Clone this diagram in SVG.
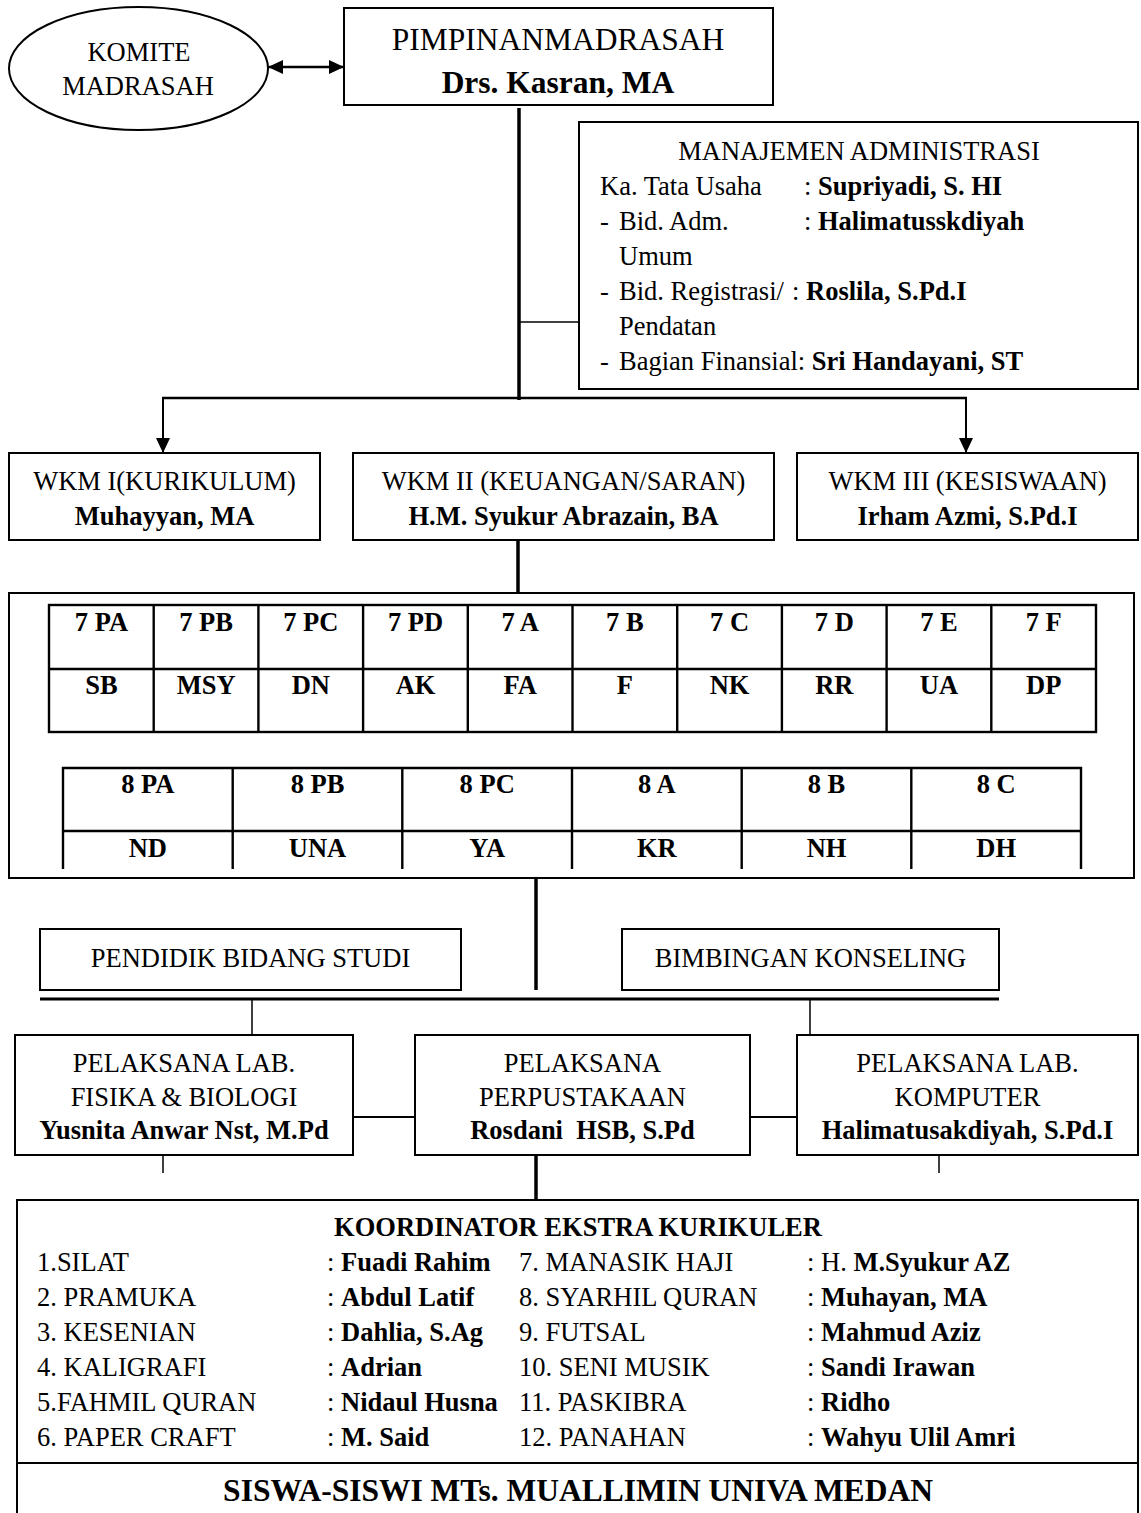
<svg xmlns="http://www.w3.org/2000/svg" width="1141" height="1513" viewBox="0 0 1141 1513">
<style>
text{font-family:"Liberation Serif","Times New Roman",serif;font-size:26.5px;fill:#000}
.b{font-weight:bold}
.c{text-anchor:middle}
.big{font-size:31.5px}
.box{fill:#fff;stroke:#000;stroke-width:2}
.tbl{fill:none;stroke:#000;stroke-width:2.4}
.ln{stroke:#000;fill:none}
</style>
<defs>
<marker id="ah" viewBox="0 0 10 10" refX="10" refY="5" markerWidth="15" markerHeight="14" preserveAspectRatio="none" markerUnits="userSpaceOnUse" orient="auto-start-reverse">
<path d="M0,0 L10,5 L0,10 z" fill="#000"/>
</marker>
</defs>

<g id="connectors">
<line class="ln" x1="268" y1="67" x2="344" y2="67" stroke-width="2.5" marker-start="url(#ah)" marker-end="url(#ah)"/>
<line class="ln" x1="519" y1="108" x2="519" y2="400" stroke-width="3.5"/>
<line class="ln" x1="519" y1="322" x2="579" y2="322" stroke-width="1.5"/>
<line class="ln" x1="162" y1="398" x2="967" y2="398" stroke-width="2.5"/>
<line class="ln" x1="163" y1="398" x2="163" y2="453" stroke-width="2" marker-end="url(#ah)"/>
<line class="ln" x1="966" y1="398" x2="966" y2="453" stroke-width="2" marker-end="url(#ah)"/>
<line class="ln" x1="518" y1="540" x2="518" y2="593" stroke-width="3.5"/>
<line class="ln" x1="536" y1="879" x2="536" y2="990" stroke-width="3.5"/>
<line class="ln" x1="40" y1="999" x2="999" y2="999" stroke-width="3"/>
<line class="ln" x1="252" y1="999" x2="252" y2="1035" stroke-width="1.5"/>
<line class="ln" x1="810" y1="999" x2="810" y2="1035" stroke-width="1.5"/>
<line class="ln" x1="353" y1="1117" x2="415" y2="1117" stroke-width="2"/>
<line class="ln" x1="750" y1="1117" x2="797" y2="1117" stroke-width="2"/>
<line class="ln" x1="163" y1="1155" x2="163" y2="1173" stroke-width="1.5"/>
<line class="ln" x1="939" y1="1155" x2="939" y2="1173" stroke-width="1.5"/>
<line class="ln" x1="536" y1="1155" x2="536" y2="1200" stroke-width="3.5"/>
</g>

<g id="komite">
<ellipse cx="138.5" cy="68.5" rx="129.5" ry="61.5" fill="#fff" stroke="#000" stroke-width="2"/>
<text class="c" x="139" y="61">KOMITE</text>
<text class="c" x="138" y="95">MADRASAH</text>
</g>

<g id="pimpinan">
<rect class="box" x="344" y="8" width="429" height="97"/>
<text class="c big" x="558" y="50">PIMPINANMADRASAH</text>
<text class="c big b" x="558" y="93">Drs. Kasran, MA</text>
</g>

<g id="manajemen">
<rect class="box" x="579" y="122" width="559" height="267"/>
<text class="c" x="859" y="160">MANAJEMEN ADMINISTRASI</text>
<text x="600" y="195">Ka. Tata Usaha</text>
<text x="804" y="195">: <tspan class="b">Supriyadi, S. HI</tspan></text>
<text x="600" y="230">-</text>
<text x="619" y="230">Bid. Adm.</text>
<text x="804" y="230">: <tspan class="b">Halimatusskdiyah</tspan></text>
<text x="619" y="265">Umum</text>
<text x="600" y="300">-</text>
<text x="619" y="300">Bid. Registrasi/</text>
<text x="792" y="300">: <tspan class="b">Roslila, S.Pd.I</tspan></text>
<text x="619" y="335">Pendatan</text>
<text x="600" y="370">-</text>
<text x="619" y="370">Bagian Finansial: <tspan class="b">Sri Handayani, ST</tspan></text>
</g>

<g id="wkm1">
<rect class="box" x="9" y="453" width="311" height="87"/>
<text class="c" x="164.5" y="490">WKM I(KURIKULUM)</text>
<text class="c b" x="164.5" y="525">Muhayyan, MA</text>
</g>
<g id="wkm2">
<rect class="box" x="353" y="453" width="421" height="87"/>
<text class="c" x="563.5" y="490">WKM II (KEUANGAN/SARAN)</text>
<text class="c b" x="563.5" y="525">H.M. Syukur Abrazain, BA</text>
</g>
<g id="wkm3">
<rect class="box" x="797" y="453" width="341" height="87"/>
<text class="c" x="967.5" y="490">WKM III (KESISWAAN)</text>
<text class="c b" x="967.5" y="525">Irham Azmi, S.Pd.I</text>
</g>

<g id="kelas">
<rect class="box" x="9" y="593" width="1125" height="285"/>
<g id="kelas7">
<rect class="tbl" x="49" y="605" width="1047" height="127"/>
<line class="tbl" x1="49" y1="669" x2="1096" y2="669"/>
<line class="tbl" x1="153.7" y1="605" x2="153.7" y2="732"/>
<line class="tbl" x1="258.4" y1="605" x2="258.4" y2="732"/>
<line class="tbl" x1="363.1" y1="605" x2="363.1" y2="732"/>
<line class="tbl" x1="467.8" y1="605" x2="467.8" y2="732"/>
<line class="tbl" x1="572.5" y1="605" x2="572.5" y2="732"/>
<line class="tbl" x1="677.2" y1="605" x2="677.2" y2="732"/>
<line class="tbl" x1="781.9" y1="605" x2="781.9" y2="732"/>
<line class="tbl" x1="886.6" y1="605" x2="886.6" y2="732"/>
<line class="tbl" x1="991.3" y1="605" x2="991.3" y2="732"/>
<text class="c b" x="101.4" y="631">7 PA</text>
<text class="c b" x="206.1" y="631">7 PB</text>
<text class="c b" x="310.8" y="631">7 PC</text>
<text class="c b" x="415.5" y="631">7 PD</text>
<text class="c b" x="520.2" y="631">7 A</text>
<text class="c b" x="624.9" y="631">7 B</text>
<text class="c b" x="729.6" y="631">7 C</text>
<text class="c b" x="834.3" y="631">7 D</text>
<text class="c b" x="939" y="631">7 E</text>
<text class="c b" x="1043.7" y="631">7 F</text>
<text class="c b" x="101.4" y="694">SB</text>
<text class="c b" x="206.1" y="694">MSY</text>
<text class="c b" x="310.8" y="694">DN</text>
<text class="c b" x="415.5" y="694">AK</text>
<text class="c b" x="520.2" y="694">FA</text>
<text class="c b" x="624.9" y="694">F</text>
<text class="c b" x="729.6" y="694">NK</text>
<text class="c b" x="834.3" y="694">RR</text>
<text class="c b" x="939" y="694">UA</text>
<text class="c b" x="1043.7" y="694">DP</text>
</g>
<g id="kelas8">
<path class="tbl" d="M63,869 V768 H1081 V869 M63,831 H1081 M232.7,768 V869 M402.3,768 V869 M572,768 V869 M741.7,768 V869 M911.3,768 V869"/>
<text class="c b" x="147.8" y="793">8 PA</text>
<text class="c b" x="317.5" y="793">8 PB</text>
<text class="c b" x="487.2" y="793">8 PC</text>
<text class="c b" x="656.8" y="793">8 A</text>
<text class="c b" x="826.5" y="793">8 B</text>
<text class="c b" x="996.2" y="793">8 C</text>
<text class="c b" x="147.8" y="857">ND</text>
<text class="c b" x="317.5" y="857">UNA</text>
<text class="c b" x="487.2" y="857">YA</text>
<text class="c b" x="656.8" y="857">KR</text>
<text class="c b" x="826.5" y="857">NH</text>
<text class="c b" x="996.2" y="857">DH</text>
</g>
</g>

<g id="pendidik">
<rect class="box" x="40" y="929" width="421" height="61"/>
<text class="c" x="250.5" y="967">PENDIDIK BIDANG STUDI</text>
</g>
<g id="bk">
<rect class="box" x="622" y="929" width="377" height="61"/>
<text class="c" x="810.5" y="967">BIMBINGAN KONSELING</text>
</g>

<g id="lab-fisika">
<rect class="box" x="15" y="1035" width="338" height="120"/>
<text class="c" x="184" y="1072">PELAKSANA LAB.</text>
<text class="c" x="184" y="1106">FISIKA &amp; BIOLOGI</text>
<text class="c b" x="184" y="1139">Yusnita Anwar Nst, M.Pd</text>
</g>
<g id="perpustakaan">
<rect class="box" x="415" y="1035" width="335" height="120"/>
<text class="c" x="582.5" y="1072">PELAKSANA</text>
<text class="c" x="582.5" y="1106">PERPUSTAKAAN</text>
<text class="c b" x="582.5" y="1139">Rosdani&#160; HSB, S.Pd</text>
</g>
<g id="lab-komputer">
<rect class="box" x="797" y="1035" width="341" height="120"/>
<text class="c" x="967.5" y="1072">PELAKSANA LAB.</text>
<text class="c" x="967.5" y="1106">KOMPUTER</text>
<text class="c b" x="967.5" y="1139">Halimatusakdiyah, S.Pd.I</text>
</g>

<g id="ekstra">
<path class="ln" stroke-width="2" d="M17,1514 V1200 H1138 V1514 M17,1463 H1138"/>
<text class="c b" x="578" y="1236">KOORDINATOR EKSTRA KURIKULER</text>
<text x="37" y="1271">1.SILAT</text>
<text x="37" y="1306">2. PRAMUKA</text>
<text x="37" y="1341">3. KESENIAN</text>
<text x="37" y="1376">4. KALIGRAFI</text>
<text x="37" y="1411">5.FAHMIL QURAN</text>
<text x="37" y="1446">6. PAPER CRAFT</text>
<text x="327" y="1271">: <tspan class="b">Fuadi Rahim</tspan></text>
<text x="327" y="1306">: <tspan class="b">Abdul Latif</tspan></text>
<text x="327" y="1341">: <tspan class="b">Dahlia, S.Ag</tspan></text>
<text x="327" y="1376">: <tspan class="b">Adrian</tspan></text>
<text x="327" y="1411">: <tspan class="b">Nidaul Husna</tspan></text>
<text x="327" y="1446">: <tspan class="b">M. Said</tspan></text>
<text x="519" y="1271">7. MANASIK HAJI</text>
<text x="519" y="1306">8. SYARHIL QURAN</text>
<text x="519" y="1341">9. FUTSAL</text>
<text x="519" y="1376">10. SENI MUSIK</text>
<text x="519" y="1411">11. PASKIBRA</text>
<text x="519" y="1446">12. PANAHAN</text>
<text x="807" y="1271">: H. <tspan class="b">M.Syukur AZ</tspan></text>
<text x="807" y="1306">: <tspan class="b">Muhayan, MA</tspan></text>
<text x="807" y="1341">: <tspan class="b">Mahmud Aziz</tspan></text>
<text x="807" y="1376">: <tspan class="b">Sandi Irawan</tspan></text>
<text x="807" y="1411">: <tspan class="b">Ridho</tspan></text>
<text x="807" y="1446">: <tspan class="b">Wahyu Ulil Amri</tspan></text>
</g>
<g id="siswa">
<text class="c b big" x="578" y="1501">SISWA-SISWI MTs. MUALLIMIN UNIVA MEDAN</text>
</g>
</svg>
